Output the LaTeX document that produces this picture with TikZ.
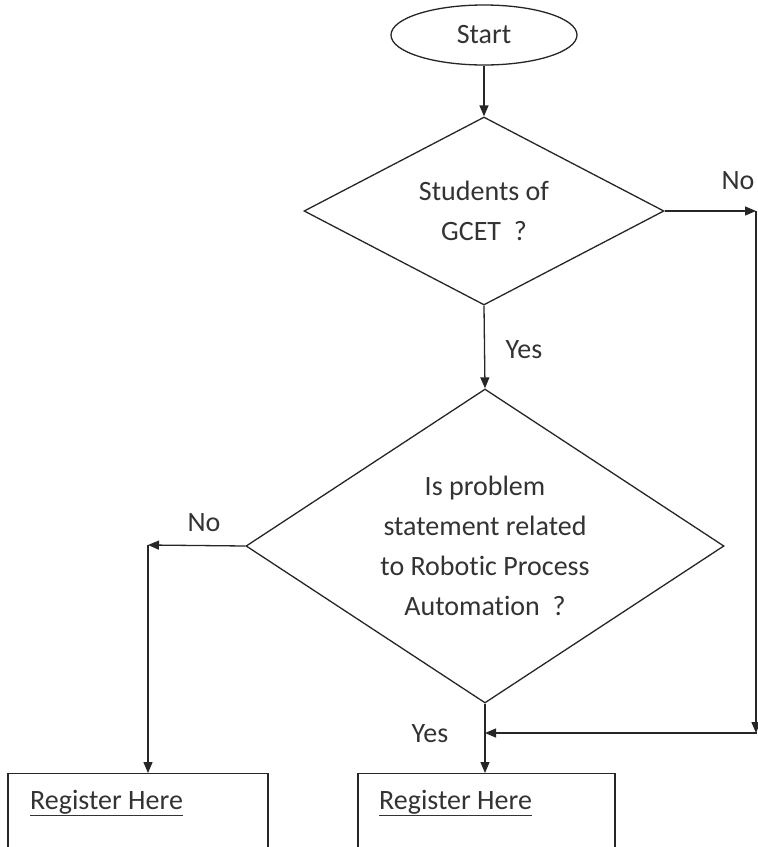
\documentclass[tikz,border=0pt]{standalone}
\usepackage{fontspec}
\setmainfont[Ligatures={NoCommon}]{Carlito}
\usetikzlibrary{shapes.geometric,arrows.meta}
\begin{document}
\begin{tikzpicture}[x=1pt,y=-1pt,
  line/.style={line width=1.3pt, draw=black!85},
  arr/.style={line, -{Triangle[length=11pt,width=9pt]}},
  txt/.style={font=\fontsize{28}{40}\selectfont, text=black!80},
  decision/.style={diamond, line, inner sep=0pt, align=center, txt},
  boxnode/.style={rectangle, line, minimum width=260pt, minimum height=140pt, anchor=north}
]
\useasboundingbox (0,0) rectangle (758,847);
\clip (0,0) rectangle (758,847);
\fill[white] (0,0) rectangle (758,847);

\node[ellipse, line, minimum width=186pt, minimum height=60pt, inner sep=0pt, txt] (start) at (484,35) {Start};

\node[decision, minimum width=360pt, minimum height=188pt, aspect=1.9] (d1) at (484,211) {Students of\\GCET~~?};

\node[decision, minimum width=478pt, minimum height=314pt, aspect=1.52] (d2) at (485,546)
  {Is problem\\statement related\\to Robotic Process\\Automation~~?};

\node[boxnode] (b1) at (138,773) {};
\node[boxnode, minimum width=257pt] (b2) at (486.5,773) {};

\node[txt, anchor=west, inner sep=0pt] (t1) at (30,803) {\underline{Register Here}};
\node[txt, anchor=west, inner sep=0pt] (t2) at (379,803) {\underline{Register Here}};

\coordinate (r1) at (756,211);
\coordinate (r2) at (756,733);
\coordinate (j) at (485,733);
\coordinate (l1) at (148,545);

\draw[arr] (start.south) -- (d1.north);
\draw[arr] (d1.south) -- (d2.north);
\draw[arr] (d1.east) -- (r1);
\draw[arr] (r1) -- (r2);
\draw[line] (r2) -- (757,733);
\draw[arr] (r2) -- (j);
\draw[arr] (d2.south) -- (b2.north -| d2.south);
\draw[arr] (d2.west) -- (l1);
\draw[arr] (l1) -- (l1 |- b1.north);

\node[txt] (yes1) at (524,350) {Yes};
\node[txt] (no1) at (738,181) {No};
\node[txt] (no2) at (204,523) {No};
\node[txt] (yes2) at (430,734) {Yes};
\end{tikzpicture}
\end{document}
